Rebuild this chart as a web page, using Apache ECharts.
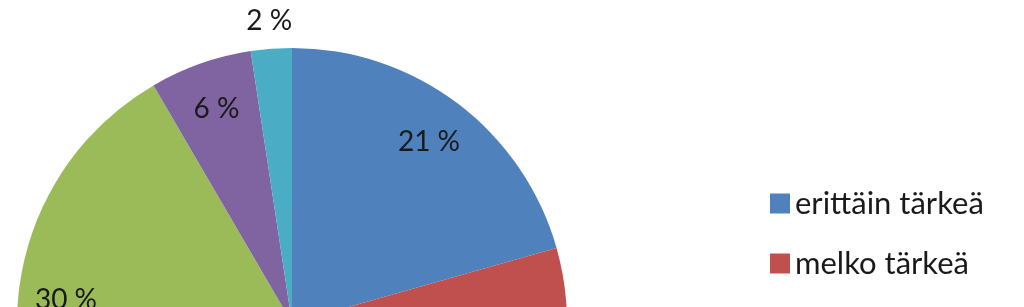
<!DOCTYPE html>
<html>
<head>
<meta charset="utf-8">
<script src="https://cdn.jsdelivr.net/npm/echarts@6/dist/echarts.min.js"></script>
<style>
html,body{margin:0;padding:0;background:#fff;}
#chart{width:1024px;height:307px;}
</style>
</head>
<body>
<div id="chart"></div>
<script>
// Data (percent shares)
const categories = ['erittäin tärkeä', 'melko tärkeä', 'ei kovin tärkeä', 'ei lainkaan tärkeä', 'en osaa sanoa'];
const values = [20.6, 41.0, 30.0, 6.0, 2.4];
const colors = ['#4F81BD', '#C0504D', '#9BBB59', '#8064A2', '#4BACC6'];
// which slices have their label outside the pie
const outsideLabel = [false, false, false, false, true];

const FONT = 'Lato, "Open Sans", sans-serif';
const center = [292, 323];
const R = 275;

const baseData = categories.map((c, i) => ({
  name: c, value: values[i], itemStyle: { color: colors[i] }
}));
const fmt = p => Math.round(p.value) + ' %';

const chart = echarts.init(document.getElementById('chart'), null, { renderer: 'canvas' });
chart.setOption({
  animation: false,
  backgroundColor: '#ffffff',
  legend: {
    orient: 'vertical',
    left: 765,
    top: 183,
    height: 800,
    itemWidth: 20,
    itemHeight: 20,
    itemGap: 29,
    icon: 'rect',
    data: categories,
    textStyle: { fontFamily: FONT, fontSize: 31, color: '#1a1a1a', lineHeight: 30, padding: 0 }
  },
  series: [
    {
      type: 'pie',
      center: center,
      radius: [0, R],
      startAngle: 90,
      clockwise: true,
      data: baseData,
      label: { show: false },
      labelLine: { show: false },
      emphasis: { disabled: true }
    },
    {
      // label carrier ring for inside labels (transparent)
      type: 'pie',
      center: center,
      radius: [R * 0.63, R],
      startAngle: 90,
      clockwise: true,
      silent: true,
      legendHoverLink: false,
      data: categories.map((c, i) => ({
        name: c, value: values[i],
        itemStyle: { color: 'rgba(0,0,0,0)' },
        label: { show: !outsideLabel[i] }
      })),
      itemStyle: { color: 'rgba(0,0,0,0)' },
      label: { position: 'inside', formatter: fmt, fontFamily: FONT, fontSize: 28, color: '#1a1a1a' },
      labelLine: { show: false },
      emphasis: { disabled: true }
    },
    {
      // label carrier ring for outside labels (transparent)
      type: 'pie',
      center: center,
      radius: [R, R * 1.18],
      startAngle: 90,
      clockwise: true,
      silent: true,
      legendHoverLink: false,
      data: categories.map((c, i) => ({
        name: c, value: values[i],
        itemStyle: { color: 'rgba(0,0,0,0)' },
        label: { show: outsideLabel[i] }
      })),
      itemStyle: { color: 'rgba(0,0,0,0)' },
      label: { position: 'inside', formatter: fmt, fontFamily: FONT, fontSize: 28, color: '#1a1a1a' },
      labelLine: { show: false },
      emphasis: { disabled: true }
    }
  ]
});
</script>
</body>
</html>
